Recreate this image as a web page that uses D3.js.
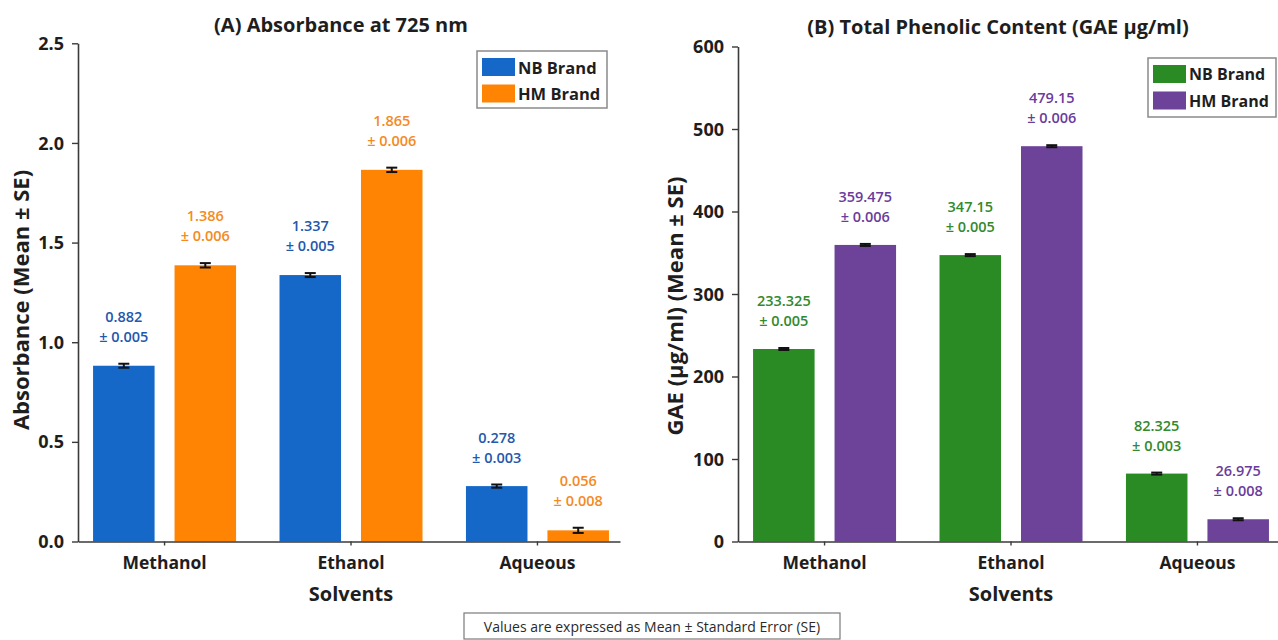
<!DOCTYPE html>
<html>
<head>
<meta charset="utf-8">
<script src="https://cdn.jsdelivr.net/npm/d3@7"></script>
<style>
  html, body { margin: 0; padding: 0; background: #fff; }
  svg { display: block; font-family: "Open Sans", "Noto Sans", sans-serif; }
</style>
</head>
<body>
<svg id="chart" width="1278" height="640"></svg>
<script>
// ---- data ----
const categories = ["Methanol", "Ethanol", "Aqueous"];
const brands = ["NB Brand", "HM Brand"];

// (A) absorbance at 725 nm
const absNB = [0.882, 1.337, 0.278];
const absHM = [1.386, 1.865, 0.056];
const absSeNB = [0.005, 0.005, 0.003];
const absSeHM = [0.006, 0.006, 0.008];
const absTicks = [0, 0.5, 1.0, 1.5, 2.0, 2.5];

// (B) total phenolic content, GAE µg/ml
const gaeNB = [233.325, 347.15, 82.325];
const gaeHM = [359.475, 479.15, 26.975];
const gaeSeNB = [0.005, 0.005, 0.003];
const gaeSeHM = [0.006, 0.006, 0.008];
const gaeTicks = [0, 100, 200, 300, 400, 500, 600];

const svg = d3.select("#chart");
const axisColor = "#3a3a3a";
const textColor = "#1e1e1e";

function drawPanel(cfg) {
  const g = svg.append("g");

  const x = d3.scaleBand()
    .domain(categories)
    .range([cfg.x0, cfg.x1])
    .paddingInner(0.233)
    .paddingOuter(0.07)
    .align(0.577);

  const xInner = d3.scaleBand()
    .domain(brands)
    .range([0, x.bandwidth()])
    .paddingInner(0.245);

  const y = d3.scaleLinear()
    .domain([0, cfg.yMax])
    .range([cfg.yBottom, cfg.yTop]);

  // rows: one per category x brand
  const rows = [];
  categories.forEach((c, i) => {
    rows.push({ cat: c, brand: brands[0], v: cfg.nb[i], se: cfg.nbSe[i], fill: cfg.colors[0], lab: cfg.labelColors[0] });
    rows.push({ cat: c, brand: brands[1], v: cfg.hm[i], se: cfg.hmSe[i], fill: cfg.colors[1], lab: cfg.labelColors[1] });
  });

  // bars
  g.append("g").selectAll("rect")
    .data(rows)
    .join("rect")
    .attr("x", d => x(d.cat) + xInner(d.brand))
    .attr("y", d => y(d.v))
    .attr("width", xInner.bandwidth())
    .attr("height", d => y(0) - y(d.v))
    .attr("fill", d => d.fill);

  // error bars (mean ± SE)
  const eb = g.append("g").attr("stroke", "#111").attr("stroke-width", 2);
  rows.forEach(d => {
    const cx = x(d.cat) + xInner(d.brand) + xInner.bandwidth() / 2;
    const y1 = y(d.v + d.se), y2 = y(d.v - d.se);
    eb.append("line").attr("x1", cx).attr("x2", cx).attr("y1", y1 - 1).attr("y2", y2 + 1);
    eb.append("line").attr("x1", cx - 5.5).attr("x2", cx + 5.5).attr("y1", y1 - 1).attr("y2", y1 - 1);
    eb.append("line").attr("x1", cx - 5.5).attr("x2", cx + 5.5).attr("y1", y2 + 1).attr("y2", y2 + 1);
  });

  // value labels
  const lbl = g.append("g")
    .attr("text-anchor", "middle")
    .attr("font-size", 14.5)
    .attr("font-weight", 600);
  rows.forEach(d => {
    const cx = x(d.cat) + xInner(d.brand) + xInner.bandwidth() / 2;
    const top = y(d.v + d.se);
    lbl.append("text").attr("x", cx).attr("y", top - 43).attr("fill", d.lab).text(String(d.v));
    lbl.append("text").attr("x", cx).attr("y", top - 23).attr("fill", d.lab).text("± " + d.se.toFixed(3));
  });

  // axes
  const yAxis = g.append("g")
    .attr("transform", `translate(${cfg.x0},0)`)
    .call(d3.axisLeft(y).tickValues(cfg.ticks).tickFormat(cfg.fmt).tickSize(6).tickSizeOuter(0).tickPadding(8));
  const xAxis = g.append("g")
    .attr("transform", `translate(0,${cfg.yBottom})`)
    .call(d3.axisBottom(x).tickSize(4).tickSizeOuter(0).tickPadding(8));

  [yAxis, xAxis].forEach(a => {
    a.select(".domain").attr("stroke", axisColor).attr("stroke-width", 1.6);
    a.selectAll(".tick line").attr("stroke", axisColor).attr("stroke-width", 1.4);
    a.selectAll(".tick text").attr("fill", textColor).attr("font-weight", 700);
  });
  yAxis.selectAll(".tick text").attr("font-size", 18).attr("dy", "0.34em");
  xAxis.selectAll(".tick text").attr("font-size", 17.5).attr("dy", null).attr("y", 0)
    .attr("transform", `translate(0,${562 - cfg.yBottom})`).attr("dominant-baseline", "central");
  yAxis.attr("font-family", null);
  xAxis.attr("font-family", null);

  // titles
  g.append("text")
    .attr("x", cfg.titleX).attr("y", cfg.titleY)
    .attr("text-anchor", "middle").attr("dominant-baseline", "central")
    .attr("font-size", 20).attr("font-weight", 700).attr("fill", textColor)
    .text(cfg.title);

  g.append("text")
    .attr("x", (x(categories[1]) + x.bandwidth() / 2)).attr("y", 593)
    .attr("text-anchor", "middle").attr("dominant-baseline", "central")
    .attr("font-size", 20).attr("font-weight", 700).attr("fill", textColor)
    .text("Solvents");

  g.append("text")
    .attr("transform", `translate(${cfg.yLabelX},${cfg.yLabelY}) rotate(-90)`)
    .attr("text-anchor", "middle").attr("dominant-baseline", "central")
    .attr("font-size", 22).attr("font-weight", 700).attr("fill", textColor)
    .text(cfg.yLabel);

  // legend
  const lg = g.append("g").attr("transform", `translate(${cfg.legend[0]},${cfg.legend[1]})`);
  lg.append("rect")
    .attr("width", cfg.legend[2]).attr("height", cfg.legend[3])
    .attr("fill", "#fff").attr("stroke", "#8a8a8a").attr("stroke-width", 1.5);
  brands.forEach((b, i) => {
    lg.append("rect")
      .attr("x", 5).attr("y", 7 + i * 26.5)
      .attr("width", 33).attr("height", 18)
      .attr("fill", cfg.colors[i]);
    lg.append("text")
      .attr("x", 41).attr("y", 16 + i * 26.5)
      .attr("dominant-baseline", "central")
      .attr("font-size", cfg.legendFont).attr("font-weight", 700).attr("fill", textColor)
      .text(b);
  });
}

drawPanel({
  x0: 78, x1: 620, yTop: 43.3, yBottom: 541.5, yMax: 2.5,
  nb: absNB, hm: absHM, nbSe: absSeNB, hmSe: absSeHM,
  ticks: absTicks, fmt: d3.format(".1f"),
  colors: ["#1568c8", "#ff8404"],
  labelColors: ["#2458ad", "#f58a22"],
  title: "(A) Absorbance at 725 nm", titleX: 341, titleY: 24,
  yLabel: "Absorbance (Mean ± SE)", yLabelX: 20, yLabelY: 300,
  legend: [477, 51, 130, 57], legendFont: 16.5
});

drawPanel({
  x0: 738, x1: 1280, yTop: 46.5, yBottom: 541.5, yMax: 600,
  nb: gaeNB, hm: gaeHM, nbSe: gaeSeNB, hmSe: gaeSeHM,
  ticks: gaeTicks, fmt: d3.format("d"),
  colors: ["#2a8b24", "#6d4299"],
  labelColors: ["#33892c", "#6a3c9c"],
  title: "(B) Total Phenolic Content (GAE µg/ml)", titleX: 998, titleY: 26,
  yLabel: "GAE (µg/ml) (Mean ± SE)", yLabelX: 674, yLabelY: 306,
  legend: [1148, 58, 128, 59], legendFont: 16
});

// footnote
const note = svg.append("g");
note.append("rect")
  .attr("x", 464).attr("y", 613).attr("width", 376).attr("height", 26)
  .attr("fill", "#fff").attr("stroke", "#7a7a7a").attr("stroke-width", 1.2);
note.append("text")
  .attr("x", 652).attr("y", 626)
  .attr("text-anchor", "middle").attr("dominant-baseline", "central")
  .attr("font-size", 14).attr("fill", "#2a2a2a")
  .text("Values are expressed as Mean ± Standard Error (SE)");
</script>
</body>
</html>
